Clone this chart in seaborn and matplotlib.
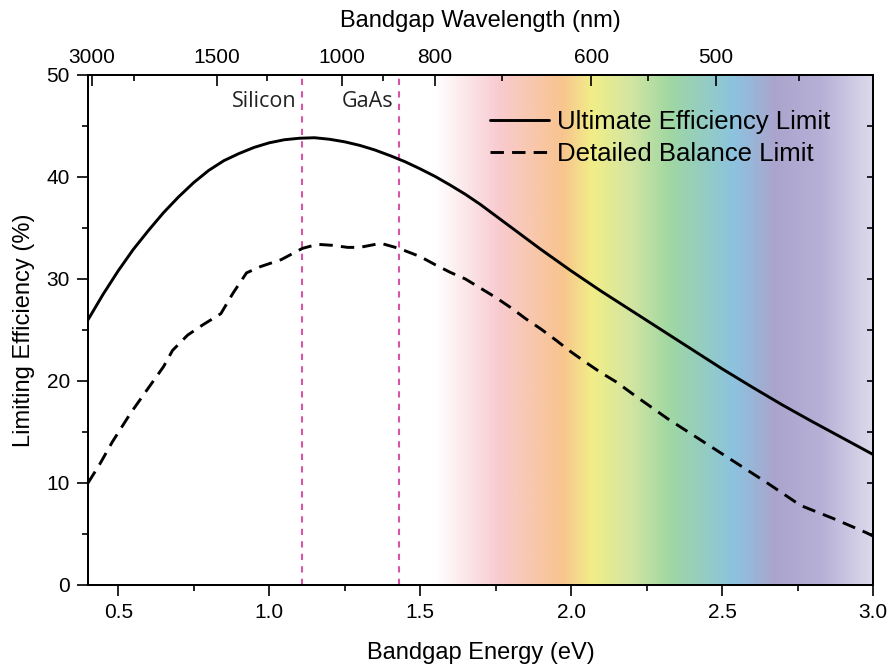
import numpy as np
import matplotlib
matplotlib.use("Agg")
import matplotlib.pyplot as plt
from matplotlib.colors import LinearSegmentedColormap
from matplotlib.ticker import MultipleLocator, FixedLocator, NullFormatter
import seaborn as sns

# Ultimate efficiency limit vs bandgap energy
energy_ultimate = [0.40, 0.45, 0.50, 0.55, 0.60, 0.65, 0.70, 0.75, 0.80, 0.85,
                   0.90, 0.95, 1.00, 1.05, 1.10, 1.15, 1.20, 1.25, 1.30, 1.35,
                   1.40, 1.45, 1.50, 1.55, 1.60, 1.65, 1.70, 1.75, 1.80, 1.85,
                   1.90, 1.95, 2.00, 2.10, 2.20, 2.30, 2.40, 2.50, 2.60, 2.70,
                   2.80, 2.90, 3.00]
eff_ultimate = [26.0, 28.5, 30.8, 32.9, 34.75, 36.5, 38.05, 39.45, 40.65, 41.6,
                42.3, 42.9, 43.35, 43.65, 43.8, 43.85, 43.7, 43.45, 43.1, 42.65,
                42.1, 41.5, 40.8, 40.05, 39.2, 38.3, 37.3, 36.2, 35.1, 34.0,
                32.9, 31.85, 30.8, 28.8, 26.9, 25.0, 23.1, 21.2, 19.4, 17.65,
                16.0, 14.4, 12.8]

# Detailed balance (Shockley-Queisser) limit under AM1.5G
energy_balance = [0.40, 0.44, 0.48, 0.54, 0.59, 0.65, 0.68, 0.73, 0.78, 0.84,
                  0.88, 0.925, 0.97, 1.04, 1.11, 1.16, 1.21, 1.26, 1.30, 1.37,
                  1.43, 1.50, 1.55, 1.60, 1.65, 1.70, 1.75, 1.80, 1.85, 1.90,
                  1.95, 2.00, 2.05, 2.10, 2.15, 2.21, 2.32, 2.43, 2.54, 2.65,
                  2.76, 2.87, 2.98, 3.00]
eff_balance = [10.0, 11.9, 14.0, 16.8, 18.9, 21.4, 23.0, 24.5, 25.5, 26.6,
               28.6, 30.6, 31.2, 31.9, 33.0, 33.4, 33.3, 33.1, 33.1, 33.5,
               33.0, 32.2, 31.4, 30.65, 30.0, 29.1, 28.2, 27.2, 26.1, 25.1,
               24.0, 22.85, 21.8, 20.8, 19.9, 18.6, 16.3, 14.2, 12.1, 10.0,
               7.8, 6.5, 5.1, 4.8]

# Reference materials
materials = ["Silicon", "GaAs"]
material_gaps = [1.11, 1.43]

# Wavelength ticks for the top axis (nm)
wl_major = [3000, 1500, 1000, 800, 600, 500]
wl_minor = [2250, 1250, 900, 700, 550, 450]

# Visible-spectrum backdrop: (energy in eV, colour)
spectrum_stops = [(1.55, "#ffffff"), (1.76, "#f8cbd0"), (1.97, "#f8c48e"),
                  (2.07, "#f1ee88"), (2.20, "#d2e5a2"), (2.33, "#9fd7a3"),
                  (2.54, "#8cc3df"), (2.68, "#aba4cd"), (2.83, "#b6b0d7"),
                  (3.00, "#dcd9eb")]

HC = 1239.84  # eV*nm

sns.set_style("ticks")
plt.rcParams["font.family"] = ["Liberation Sans", "DejaVu Sans"]
for key in ["text.color", "axes.labelcolor", "xtick.color", "ytick.color",
            "axes.edgecolor"]:
    plt.rcParams[key] = "black"

fig = plt.figure(figsize=(8.93, 6.68), dpi=100)
ax = fig.add_axes([88 / 893, 1 - 585 / 668, 785 / 893, 510 / 668])

# spectrum gradient
e0, e1 = spectrum_stops[0][0], spectrum_stops[-1][0]
cmap = LinearSegmentedColormap.from_list(
    "spectrum", [((e - e0) / (e1 - e0), c) for e, c in spectrum_stops])
ax.imshow(np.linspace(0, 1, 600).reshape(1, -1), cmap=cmap, aspect="auto",
          extent=(e0, e1, 0, 50), interpolation="bilinear", zorder=0)

sns.lineplot(x=energy_ultimate, y=eff_ultimate, ax=ax, color="black", lw=2.1,
             label="Ultimate Efficiency Limit", zorder=3)
sns.lineplot(x=energy_balance, y=eff_balance, ax=ax, color="black", lw=2.1,
             linestyle=(0, (4.6, 2.8)), label="Detailed Balance Limit", zorder=3)

for name, eg in zip(materials, material_gaps):
    ax.axvline(eg, color="#d655a6", lw=1.5, linestyle=(0, (3, 3)), zorder=2)
    ax.text(eg - 0.02, 47.4, name, ha="right", va="center", fontsize=15.5,
            family=["Open Sans", "DejaVu Sans"], color="#222222")

ax.set_xlim(0.4, 3.0)
ax.set_ylim(0, 50)
ax.xaxis.set_major_locator(MultipleLocator(0.5))
ax.xaxis.set_minor_locator(MultipleLocator(0.25))
ax.yaxis.set_major_locator(MultipleLocator(10))
ax.yaxis.set_minor_locator(MultipleLocator(5))
ax.tick_params(axis="both", which="major", labelsize=15, length=8, width=1.2,
               direction="out", pad=5)
ax.tick_params(axis="both", which="minor", length=4, width=1.2, direction="out")
ax.set_xlabel("Bandgap Energy (eV)", fontsize=17, labelpad=14)
ax.set_ylabel("Limiting Efficiency (%)", fontsize=17, labelpad=8)
for s in ax.spines.values():
    s.set_linewidth(1.3)

# Inward ticks on the right edge
ax_r = ax.twinx()
ax_r.set_ylim(ax.get_ylim())
ax_r.yaxis.set_major_locator(MultipleLocator(5))
ax_r.yaxis.set_major_formatter(NullFormatter())
ax_r.tick_params(axis="y", which="major", direction="in", length=4, width=1.2)
ax_r.grid(False)

# Wavelength axis on top
ax2 = ax.twiny()
ax2.set_xlim(ax.get_xlim())
ax2.xaxis.set_major_locator(FixedLocator([HC / w for w in wl_major]))
ax2.xaxis.set_minor_locator(FixedLocator([HC / w for w in wl_minor]))
ax2.set_xticklabels([str(w) for w in wl_major])
ax2.tick_params(axis="x", which="major", direction="in", length=8, width=1.2,
                labelsize=15, pad=6)
ax2.tick_params(axis="x", which="minor", direction="in", length=4, width=1.2)
ax2.set_xlabel("Bandgap Wavelength (nm)", fontsize=17, labelpad=15)
for a in (ax_r, ax2):
    for s in a.spines.values():
        s.set_linewidth(1.3)

ax.legend(loc="center left", bbox_to_anchor=(0.512, 0.876), frameon=False,
          fontsize=18.5, handlelength=2.3, handletextpad=0.3,
          labelspacing=0.3, borderpad=0, borderaxespad=0)

fig.savefig("out.png", dpi=100)
